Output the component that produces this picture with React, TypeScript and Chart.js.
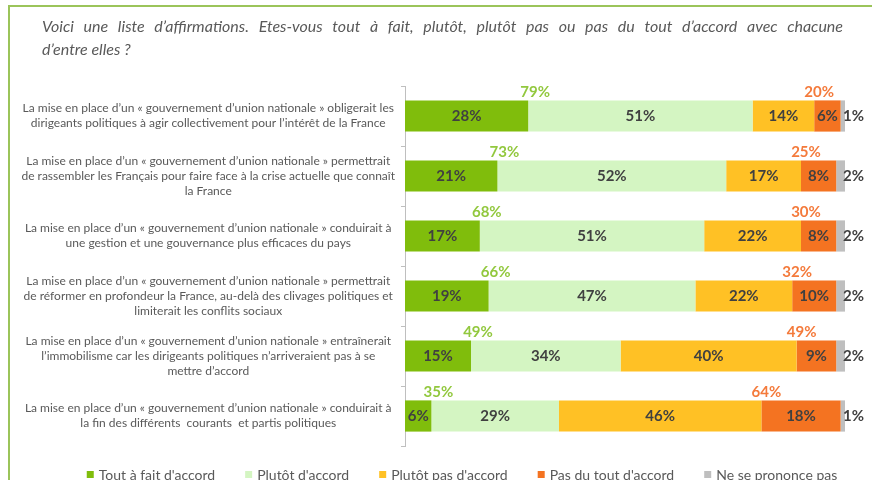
import React, { useEffect, useRef } from "react";
import { Chart, registerables } from "chart.js";

Chart.register(...registerables);

const categories: string[][] = [
  ["La mise en place d’un « gouvernement d’union nationale » obligerait les", "dirigeants politiques à agir collectivement pour l’intérêt de la France"],
  ["La mise en place d’un « gouvernement d’union nationale » permettrait", "de rassembler les Français pour faire face à la crise actuelle que connaît", "la France"],
  ["La mise en place d’un « gouvernement d’union nationale » conduirait à", "une gestion et une gouvernance plus efficaces du pays"],
  ["La mise en place d’un « gouvernement d’union nationale » permettrait", "de réformer en profondeur la France, au-delà des clivages politiques et", "limiterait les conflits sociaux"],
  ["La mise en place d’un « gouvernement d’union nationale » entraînerait", "l’immobilisme car les dirigeants politiques n’arriveraient pas à se", "mettre d’accord"],
  ["La mise en place d’un « gouvernement d’union nationale » conduirait à", "la fin des différents  courants  et partis politiques"],
];

const seriesNames = ["Tout à fait d'accord", "Plutôt d'accord", "Plutôt pas d'accord", "Pas du tout d'accord", "Ne se prononce pas"];
const toutAFait = [28, 21, 17, 19, 15, 6];
const plutot = [51, 52, 51, 47, 34, 29];
const plutotPas = [14, 17, 22, 22, 40, 46];
const pasDuTout = [6, 8, 8, 10, 9, 18];
const nsp = [1, 2, 2, 2, 2, 1];
const totalAccord = [79, 73, 68, 66, 49, 35];
const totalPasAccord = [20, 25, 30, 32, 49, 64];

const titleLines = [
  "Voici une liste d’affirmations. Etes-vous tout à fait, plutôt, plutôt pas ou pas du tout d’accord avec chacune",
  "d’entre elles ?",
];

const colors = ["#80BD0C", "#D4F5C2", "#FFC125", "#F47321", "#BFBFBF"];
const FONT = "Lato, 'Open Sans', sans-serif";

const decorPlugin = {
  id: "decor",
  afterDraw(chart: any) {
    const ctx = chart.ctx as CanvasRenderingContext2D;
    ctx.save();
    // frame
    ctx.strokeStyle = "#9BC45A";
    ctx.lineWidth = 2;
    ctx.beginPath();
    ctx.moveTo(9, 480);
    ctx.lineTo(9, 6);
    ctx.lineTo(872, 6);
    ctx.stroke();

    // title (first line justified)
    ctx.fillStyle = "#595959";
    ctx.font = `italic 16px ${FONT}`;
    ctx.textBaseline = "middle";
    ctx.textAlign = "left";
    const left = 42, right = 843;
    const words = titleLines[0].split(" ");
    const wsum = words.reduce((s, w) => s + ctx.measureText(w).width, 0);
    const gap = (right - left - wsum) / (words.length - 1);
    let x = left;
    words.forEach((w) => {
      ctx.fillText(w, x, 27);
      x += ctx.measureText(w).width + gap;
    });
    ctx.fillText(titleLines[1], left, 50);

    // legend
    ctx.font = `14px ${FONT}`;
    const items = chart.data.datasets.map((d: any) => ({ text: d.label, color: d.backgroundColor }));
    const box = 7, boxGap = 5, itemGap = 30;
    const widths = items.map((it: any) => box + boxGap + ctx.measureText(it.text).width);
    const total = widths.reduce((a: number, b: number) => a + b, 0) + itemGap * (items.length - 1);
    let lx = 462 - total / 2;
    items.forEach((it: any, i: number) => {
      ctx.fillStyle = it.color;
      ctx.fillRect(lx, 471, box, box);
      ctx.fillStyle = "#595959";
      ctx.fillText(it.text, lx + box + boxGap, 475);
      lx += widths[i] + itemGap;
    });
    ctx.restore();
  },
};

const labelPlugin = {
  id: "barLabels",
  afterDatasetsDraw(chart: any) {
    const ctx = chart.ctx as CanvasRenderingContext2D;
    ctx.save();
    ctx.font = `bold 15px ${FONT}`;
    ctx.textBaseline = "middle";
    chart.data.datasets.forEach((ds: any, i: number) => {
      const meta = chart.getDatasetMeta(i);
      meta.data.forEach((el: any, j: number) => {
        const v = ds.data[j];
        ctx.fillStyle = "#404040";
        if (i === 4) {
          ctx.textAlign = "left";
          ctx.fillText(`${v}%`, el.x - 2, el.y);
        } else {
          ctx.textAlign = "center";
          ctx.fillText(`${v}%`, (el.x + el.base) / 2, el.y);
        }
      });
    });
    const m0 = chart.getDatasetMeta(0);
    const m2 = chart.getDatasetMeta(2);
    ctx.textAlign = "center";
    m0.data.forEach((el: any, j: number) => {
      ctx.fillStyle = "#92C83E";
      ctx.fillText(`${totalAccord[j]}%`, el.x + 7, el.y - el.height / 2 - 8);
    });
    m2.data.forEach((el: any, j: number) => {
      ctx.fillStyle = "#F47A3B";
      ctx.fillText(`${totalPasAccord[j]}%`, el.x + 5, el.y - el.height / 2 - 8);
    });
    ctx.restore();
  },
};

export default function App() {
  const ref = useRef<HTMLCanvasElement | null>(null);
  useEffect(() => {
    if (!ref.current) return;
    const series = [toutAFait, plutot, plutotPas, pasDuTout, nsp];
    const chart = new Chart(ref.current, {
      type: "bar",
      data: {
        labels: categories,
        datasets: series.map((d, i) => ({
          label: seriesNames[i],
          data: d,
          backgroundColor: colors[i],
          borderWidth: 0,
          barPercentage: 0.52,
          categoryPercentage: 1,
        })),
      },
      options: {
        indexAxis: "y",
        animation: false,
        responsive: false,
        layout: { padding: { top: 86, bottom: 34, left: 10, right: 27 } },
        plugins: { legend: { display: false }, title: { display: false }, tooltip: { enabled: false } },
        scales: {
          x: { stacked: true, min: 0, max: 100, display: false },
          y: {
            stacked: true,
            afterFit: (scale: any) => { scale.width = 395; },
            grid: { drawOnChartArea: false, drawTicks: true, tickLength: 4, color: "#BFBFBF" },
            border: { display: true, color: "#BFBFBF", width: 1 },
            ticks: {
              crossAlign: "center",
              padding: 6,
              color: "#595959",
              font: { family: FONT, size: 12, lineHeight: 1.25 },
              autoSkip: false,
            },
          },
        },
      },
      plugins: [labelPlugin, decorPlugin],
    });
    return () => chart.destroy();
  }, []);
  return (
    <div style={{ position: "fixed", left: 0, top: 0, width: 872, height: 480, background: "#fff" }}>
      <canvas ref={ref} width={872} height={480} style={{ display: "block" }} />
    </div>
  );
}
